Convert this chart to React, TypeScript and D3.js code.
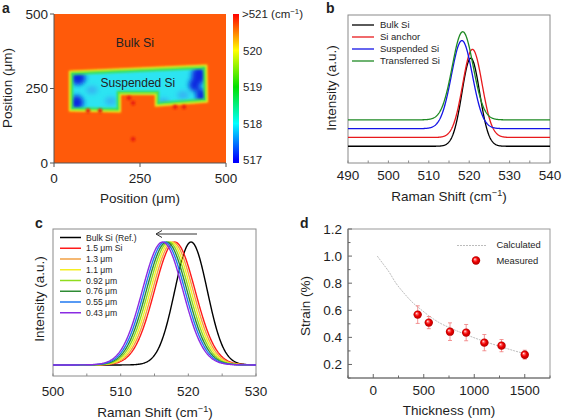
import React from "react";
import * as d3 from "d3";

const FONT = "'Liberation Sans', Arial, Helvetica, sans-serif";

// ---------- Panel a: Raman map ----------
const mapTicks = [0, 250, 500];
const colorbarTicks = [517, 518, 519, 520];
const colorbarColors = ["#0000ff", "#00ffff", "#00e000", "#ffff00", "#ff0000"];
const colorbarStops = [517, 518, 519, 520, 521];
const outlineX = [52, 437, 439, 302, 302, 186, 186, 52];
const outlineY = [300, 320, 212, 200, 238, 238, 180, 183];
// deep blue spots in µm
const deepSpotX = [70, 66, 422, 428, 408];
const deepSpotY = [284, 203, 295, 226, 262];
const deepSpotRX = [22, 20, 22, 16, 16];
const deepSpotRY = [22, 24, 30, 24, 22];
const lightSpotX = [165, 318, 110, 375, 250];
const lightSpotY = [208, 205, 245, 228, 215];
const redDotX = [99, 134, 218, 230, 230, 352, 378];
const redDotY = [175, 175, 218, 201, 80, 188, 188];

// ---------- Panel b ----------
const bNames = ["Bulk Si", "Si anchor", "Suspended Si", "Transferred Si"];
const bColors = ["#000000", "#e8191c", "#1414e6", "#1f8a24"];
const bCenters = [520.4, 520.8, 518.2, 518.4];
const bSigmas = [2.2, 2.4, 2.6, 2.6];
const bOffsets = [0, 0.1, 0.2, 0.3];
const bXTicks = [490, 500, 510, 520, 530, 540];

// ---------- Panel c ----------
const cNames = ["Bulk Si (Ref.)", "1.5 μm Si", "1.3 μm", "1.1 μm", "0.92 μm", "0.76 μm", "0.55 μm", "0.43 μm"];
const cColors = ["#000000", "#ff1a1a", "#f2a044", "#f4ee22", "#8fdc1e", "#2e8b34", "#1f78f0", "#8a2be2"];
const cCenters = [520.4, 518.0, 517.7, 517.4, 517.1, 516.8, 516.5, 516.2];
const cSigmas = [2.4, 3.0, 3.0, 3.0, 3.0, 3.0, 3.0, 3.0];
const cXTicks = [500, 510, 520, 530];

// ---------- Panel d ----------
const dThickness = [440, 550, 760, 920, 1100, 1270, 1500];
const dStrain = [0.568, 0.509, 0.442, 0.435, 0.361, 0.339, 0.272];
const dError = [0.065, 0.045, 0.065, 0.06, 0.06, 0.045, 0.033];
const calcThickness = [40, 100, 150, 225, 300, 400, 465, 550, 650, 760, 920, 1100, 1270, 1400, 1500];
const calcStrain = [1.0, 0.94, 0.89, 0.8, 0.73, 0.65, 0.61, 0.56, 0.51, 0.47, 0.42, 0.37, 0.33, 0.3, 0.28];
const dXTicks = [0, 500, 1000, 1500];
const dYTicks = [0.2, 0.4, 0.6, 0.8, 1.0, 1.2];

const gauss = (x: number, c: number, s: number) => Math.exp(-0.5 * ((x - c) / s) ** 2);

function CmUnit({ fs }: { fs: number }) {
  return (
    <>
      {"(cm"}
      <tspan dy={-fs * 0.38} fontSize={fs * 0.68}>−1</tspan>
      <tspan dy={fs * 0.38}>)</tspan>
    </>
  );
}

export default function App() {
  const TF = 13.5;
  const mx = d3.scaleLinear().domain([0, 500]).range([54, 226]);
  const my = d3.scaleLinear().domain([0, 500]).range([163, 14]);
  const cb = d3.scaleLinear().domain([517, 521]).range([160, 14]);
  const cbTop = 14, cbBot = 163;
  const outlinePts = outlineX.map((x, i) => [mx(x), my(outlineY[i])] as [number, number]);
  const outlinePath = d3.line().curve(d3.curveLinearClosed)(outlinePts) as string;

  const bx = d3.scaleLinear().domain([490, 540]).range([348, 550]);
  const by = d3.scaleLinear().domain([-0.19, 1.49]).range([163, 15]);
  const bGrid = d3.range(490, 540.001, 0.1);
  const bLine = (i: number) =>
    d3.line<number>().x((v) => bx(v)).y((v) => by(bOffsets[i] + gauss(v, bCenters[i], bSigmas[i])))(bGrid) as string;

  const cx = d3.scaleLinear().domain([500, 530]).range([53, 256]);
  const cy = d3.scaleLinear().domain([-0.09, 1.106]).range([376, 229]);
  const cGrid = d3.range(500, 530.001, 0.1);
  const cLine = (i: number) =>
    d3.line<number>().x((v) => cx(v)).y((v) => cy(gauss(v, cCenters[i], cSigmas[i])))(cGrid) as string;

  const dx = d3.scaleLinear().domain([-250, 1750]).range([348, 550]);
  const dy = d3.scaleLinear().domain([0.1, 1.2]).range([378, 229]);
  const calcPath = d3
    .line<number>()
    .curve(d3.curveMonotoneX)
    .x((t) => dx(t))
    .y((_, i) => dy(calcStrain[i]))(calcThickness) as string;

  const TXT = "#1e1e1e";

  return (
    <svg
      width={563}
      height={420}
      style={{ position: "absolute", left: 0, top: 0, background: "#fff" }}
      fontFamily={FONT}
      fill={TXT}
    >
      <defs>
        <filter id="blurS" x="-20%" y="-20%" width="140%" height="140%">
          <feGaussianBlur stdDeviation="0.8" />
        </filter>
        <filter id="blurL" x="-50%" y="-50%" width="200%" height="200%">
          <feGaussianBlur stdDeviation="2.6" />
        </filter>
        <clipPath id="shapeClip">
          <path d={outlinePath} />
        </clipPath>
        <clipPath id="mapClip">
          <rect x={54} y={14} width={172} height={149} />
        </clipPath>
        <linearGradient id="cbGrad" x1="0" y1="1" x2="0" y2="0">
          {colorbarStops.map((v, i) => (
            <stop
              key={v}
              offset={`${((cbBot - cb(v)) / (cbBot - cbTop)) * 100}%`}
              stopColor={colorbarColors[i]}
            />
          ))}
        </linearGradient>
        <radialGradient id="ball" cx="50%" cy="50%" r="50%" fx="35%" fy="32%">
          <stop offset="0%" stopColor="#ffffff" />
          <stop offset="22%" stopColor="#ff7070" />
          <stop offset="55%" stopColor="#f00000" />
          <stop offset="100%" stopColor="#b00000" />
        </radialGradient>
      </defs>

      {/* ================= Panel a ================= */}
      <text x={2} y={13} fontSize={14} fontWeight="bold">a</text>
      <g clipPath="url(#mapClip)">
        <rect x={54} y={14} width={172} height={149} fill="#ff5a0a" />
        <path d={outlinePath} fill="none" stroke="#f2f01a" strokeWidth={6} filter="url(#blurS)" />
        <path d={outlinePath} fill="#2ce4f2" />
        <g clipPath="url(#shapeClip)">
          <g filter="url(#blurL)">
            {lightSpotX.map((x, i) => (
              <ellipse key={i} cx={mx(x)} cy={my(lightSpotY[i])} rx={6} ry={4} fill="#3aa6f2" opacity={0.8} />
            ))}
            {deepSpotX.map((x, i) => (
              <ellipse
                key={i}
                cx={mx(x)}
                cy={my(deepSpotY[i])}
                rx={(deepSpotRX[i] * 172) / 500}
                ry={(deepSpotRY[i] * 149) / 500}
                fill="#0a28e0"
              />
            ))}
          </g>
        </g>
        <path d={outlinePath} fill="none" stroke="#3ee052" strokeWidth={2.6} filter="url(#blurS)" />
        <g filter="url(#blurS)">
          {redDotX.map((x, i) => (
            <circle key={i} cx={mx(x)} cy={my(redDotY[i])} r={2.3} fill="#e8200c" />
          ))}
        </g>
      </g>
      <line x1={54} x2={54} y1={14} y2={163} stroke="#555" strokeWidth={1} />
      <line x1={54} x2={226} y1={163} y2={163} stroke="#555" strokeWidth={1} />
      {mapTicks.map((t) => (
        <g key={"ay" + t}>
          <line x1={50} x2={54} y1={my(t)} y2={my(t)} stroke="#555" />
          <text x={48} y={my(t)} dy="0.35em" textAnchor="end" fontSize={TF}>{t}</text>
          <line x1={mx(t)} x2={mx(t)} y1={163} y2={167} stroke="#555" />
          <text x={mx(t)} y={183} textAnchor="middle" fontSize={TF}>{t}</text>
        </g>
      ))}
      <text x={mx(235)} y={47} textAnchor="middle" fontSize={12.3} fill="#222">Bulk Si</text>
      <text x={mx(244)} y={87} textAnchor="middle" fontSize={12} fill="#222">Suspended Si</text>
      <text x={140} y={203} textAnchor="middle" fontSize={TF}>Position (μm)</text>
      <text transform="translate(11.5,88) rotate(-90)" textAnchor="middle" fontSize={TF}>Position (μm)</text>
      <rect x={233} y={cbTop} width={6} height={cbBot - cbTop} fill="url(#cbGrad)" />
      {colorbarTicks.map((t) => (
        <text key={"cb" + t} x={243} y={cb(t)} dy="0.35em" fontSize={11.5}>{t}</text>
      ))}
      <text x={242} y={cb(521)} dy="0.35em" fontSize={11.5}>
        {">521 "}
        <CmUnit fs={11.5} />
      </text>

      {/* ================= Panel b ================= */}
      <text x={326} y={13} fontSize={14} fontWeight="bold">b</text>
      <rect x={348} y={15} width={202} height={148} fill="none" stroke="#8a8a8a" strokeWidth={1} />
      {d3.range(490, 540.001, 5).map((t) => (
        <line key={"bt" + t} x1={bx(t)} x2={bx(t)} y1={163} y2={160.5} stroke="#8a8a8a" />
      ))}
      {bNames.map((n, i) => (
        <path key={"bl" + n} d={bLine(i)} fill="none" stroke={bColors[i]} strokeWidth={1.3} />
      ))}
      {bXTicks.map((t) => (
        <text key={"bx" + t} x={bx(t)} y={180} textAnchor="middle" fontSize={TF}>{t}</text>
      ))}
      {bNames.map((n, i) => (
        <g key={"blg" + n}>
          <line x1={352} x2={374} y1={25 + 12 * i} y2={25 + 12 * i} stroke={bColors[i]} strokeWidth={1.3} />
          <text x={380} y={25 + 12 * i} dy="0.35em" fontSize={9.5}>{n}</text>
        </g>
      ))}
      <text x={449} y={201} textAnchor="middle" fontSize={TF}>
        {"Raman Shift "}
        <CmUnit fs={TF} />
      </text>
      <text transform="translate(336,88) rotate(-90)" textAnchor="middle" fontSize={TF}>Intensity (a.u.)</text>

      {/* ================= Panel c ================= */}
      <text x={35} y={228} fontSize={14} fontWeight="bold">c</text>
      <rect x={53} y={229} width={203} height={147} fill="none" stroke="#8a8a8a" strokeWidth={1} />
      {d3.range(500, 530.001, 5).map((t) => (
        <line key={"ct" + t} x1={cx(t)} x2={cx(t)} y1={376} y2={373.5} stroke="#8a8a8a" />
      ))}
      {cNames.map((n, i) => (
        <path key={"cl" + n} d={cLine(i)} fill="none" stroke={cColors[i]} strokeWidth={1.4} />
      ))}
      {cXTicks.map((t) => (
        <text key={"cx" + t} x={cx(t)} y={396} textAnchor="middle" fontSize={TF}>{t}</text>
      ))}
      {cNames.map((n, i) => (
        <g key={"clg" + n}>
          <line x1={60} x2={81} y1={237.5 + 10.75 * i} y2={237.5 + 10.75 * i} stroke={cColors[i]} strokeWidth={1.5} />
          <text x={86} y={237.5 + 10.75 * i} dy="0.35em" fontSize={8.6}>{n}</text>
        </g>
      ))}
      <line x1={197} x2={156} y1={234} y2={234} stroke="#333" strokeWidth={1} />
      <polyline points="162,230.5 156,234 162,237.5" fill="none" stroke="#333" strokeWidth={1} />
      <text x={155} y={417} textAnchor="middle" fontSize={TF}>
        {"Raman Shift "}
        <CmUnit fs={TF} />
      </text>
      <text transform="translate(44,299) rotate(-90)" textAnchor="middle" fontSize={TF}>Intensity (a.u.)</text>

      {/* ================= Panel d ================= */}
      <text x={300} y={228} fontSize={14} fontWeight="bold">d</text>
      <rect x={348} y={229} width={202} height={149} fill="none" stroke="#9a9a9a" strokeWidth={1} />
      <line x1={348} x2={348} y1={229} y2={378} stroke="#666" />
      <line x1={348} x2={550} y1={378} y2={378} stroke="#666" />
      {d3.range(0.1, 1.2001, 0.1).map((t, i) => (
        <line key={"dyt" + i} x1={348} x2={i % 2 === 1 ? 352 : 350.5} y1={dy(t)} y2={dy(t)} stroke="#666" />
      ))}
      {d3.range(-250, 1750.1, 250).map((t) => (
        <line key={"dxt" + t} x1={dx(t)} x2={dx(t)} y1={378} y2={t % 500 === 0 ? 374 : 375.5} stroke="#666" />
      ))}
      {dYTicks.map((t) => (
        <text key={"dy" + t} x={342} y={dy(t)} dy="0.35em" textAnchor="end" fontSize={TF}>{t.toFixed(1)}</text>
      ))}
      {dXTicks.map((t) => (
        <text key={"dx" + t} x={dx(t)} y={395} textAnchor="middle" fontSize={TF}>{t}</text>
      ))}
      <path d={calcPath} fill="none" stroke="#b4b4b4" strokeWidth={0.9} strokeDasharray="2,1" />
      {dThickness.map((t, i) => (
        <g key={"de" + t} stroke="#f07a7a" strokeWidth={0.8}>
          <line x1={dx(t)} x2={dx(t)} y1={dy(dStrain[i] - dError[i])} y2={dy(dStrain[i] + dError[i])} />
          <line x1={dx(t) - 2} x2={dx(t) + 2} y1={dy(dStrain[i] - dError[i])} y2={dy(dStrain[i] - dError[i])} />
          <line x1={dx(t) - 2} x2={dx(t) + 2} y1={dy(dStrain[i] + dError[i])} y2={dy(dStrain[i] + dError[i])} />
        </g>
      ))}
      {dThickness.map((t, i) => (
        <circle key={"dp" + t} cx={dx(t)} cy={dy(dStrain[i])} r={4.2} fill="url(#ball)" />
      ))}
      <line x1={457} x2={487} y1={245.5} y2={245.5} stroke="#b4b4b4" strokeWidth={0.9} strokeDasharray="2,1" />
      <text x={496.5} y={244.5} dy="0.35em" fontSize={9.4}>Calculated</text>
      <circle cx={476} cy={260.5} r={4.2} fill="url(#ball)" />
      <text x={496.5} y={261} dy="0.35em" fontSize={9.4}>Measured</text>
      <text x={449} y={415} textAnchor="middle" fontSize={TF}>Thickness (nm)</text>
      <text transform="translate(310,306) rotate(-90)" textAnchor="middle" fontSize={TF}>Strain (%)</text>
    </svg>
  );
}
